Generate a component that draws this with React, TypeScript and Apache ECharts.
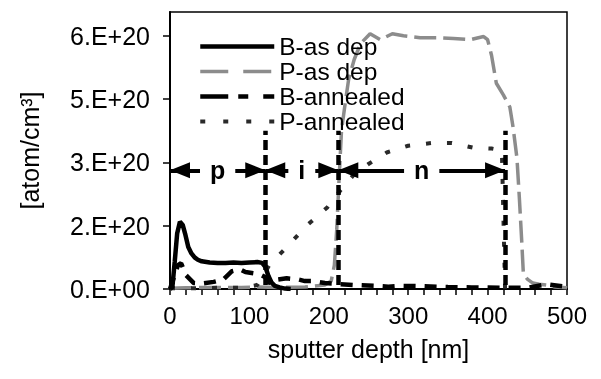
import { useEffect, useRef } from 'react';
import * as echarts from 'echarts';

// concentrations in units of 1e20 atom/cm3, depths in nm
const B_AS_DEP_DEPTH = [0, 3, 6, 9, 12.5, 16, 19, 23, 27, 31, 35, 40, 50, 60, 70, 80, 90, 100, 110, 116, 120, 124, 128, 132, 138, 145, 152];
const B_AS_DEP_CONC = [0, 0.05, 0.7, 1.4, 1.7, 1.62, 1.4, 1.06, 0.9, 0.8, 0.74, 0.7, 0.67, 0.66, 0.66, 0.67, 0.66, 0.67, 0.68, 0.66, 0.56, 0.33, 0.16, 0.08, 0.04, 0.01, 0];

const P_AS_DEP_DEPTH = [0, 20, 50, 90, 110, 140, 170, 195, 203, 207, 210, 213, 216, 220, 225, 232, 240, 252, 265, 280, 294, 315, 340, 357, 378, 395, 400, 405, 411, 420, 428, 432, 437, 440, 443, 445, 450, 457, 465, 474, 485, 500];
const P_AS_DEP_CONC = [0.02, 0.03, 0.04, 0.04, 0.05, 0.04, 0.05, 0.1, 0.2, 0.6, 1.5, 2.8, 4.0, 4.6, 5.3, 5.8, 6.2, 6.45, 6.3, 6.45, 6.4, 6.35, 6.35, 6.33, 6.3, 6.38, 6.3, 5.9, 5.2, 4.9, 4.6, 4.1, 3.3, 2.3, 1.2, 0.4, 0.25, 0.15, 0.12, 0.1, 0.05, 0.03];

const B_ANNEALED_DEPTH = [0, 5, 10, 14, 20, 30, 40, 55, 67, 78, 88, 95, 105, 115, 120, 124, 130, 147, 162, 170, 181, 195, 205, 215, 231, 258, 275, 290, 320, 350, 380, 420, 450, 475, 500];
const B_ANNEALED_CONC = [0, 0.3, 0.6, 0.65, 0.35, 0.15, 0.14, 0.18, 0.24, 0.45, 0.5, 0.43, 0.4, 0.35, 0.3, 0.15, 0.22, 0.27, 0.24, 0.2, 0.2, 0.15, 0.14, 0.12, 0.1, 0.08, 0.06, 0.08, 0.07, 0.05, 0.04, 0.03, 0.03, 0.12, 0.05];

const P_ANNEALED_DEPTH = [0, 30, 60, 90, 110, 125, 149, 172, 198, 215, 232, 250, 273, 300, 330, 355, 382, 405, 418, 422];
const P_ANNEALED_CONC = [0.02, 0.02, 0.03, 0.03, 0.1, 0.6, 1.1, 1.6, 2.06, 2.5, 2.9, 3.16, 3.45, 3.62, 3.69, 3.69, 3.57, 3.55, 3.5, 0];

const Y_TICKS = [0, 1.6, 3.2, 4.8, 6.4];
const X_LABEL_STEP = 100;

const REGION_BOUNDS = [0, 120, 212, 422];
const REGION_LABELS = ['p', 'i', 'n'];
const ARROW_LEVEL = 3.0;
const DIVIDER_X = [120, 212, 422];
const DIVIDER_RANGE = [0.1, 4.0];

const FONT = '"Liberation Sans", Arial, sans-serif';

const pairs = (xs: number[], ys: number[]) => xs.map((x, i) => [x, ys[i]]);

const excelExp = (v: number) => {
  const s = (v * 1e20).toExponential(0);
  const [m, e] = s.split('e');
  const ex = parseInt(e, 10);
  return `${m}.E${ex >= 0 ? '+' : '-'}${String(Math.abs(ex)).padStart(2, '0')}`;
};

export default function App() {
  const ref = useRef<HTMLDivElement>(null);
  useEffect(() => {
    if (!ref.current) return;
    const chart = echarts.init(ref.current, null, { renderer: 'svg' });
    const arrowEnd = (x: number) => ({
      coord: [x, ARROW_LEVEL],
      symbol: 'triangle',
      symbolSize: [16, 20],
      symbolOffset: [0, 10],
    });
    chart.setOption({
      animation: false,
      textStyle: { fontFamily: FONT },
      grid: {
        left: 170, right: 34, top: 12, bottom: 90,
        show: true, borderColor: '#000', borderWidth: 1.5,
        containLabel: false, outerBoundsMode: 'none',
      },
      legend: {
        data: [
          { name: 'B-as dep', lineStyle: { width: 4.5 } },
          { name: 'P-as dep', lineStyle: { width: 3.5, type: [28, 15] } },
          { name: 'B-annealed', lineStyle: { width: 4.5, type: [28, 10, 10, 15] } },
          { name: 'P-annealed', lineStyle: { width: 4, type: [5, 18] } },
        ],
        orient: 'vertical',
        left: 198, top: 34, padding: 0,
        itemWidth: 74, itemHeight: 14, itemGap: 0,
        itemStyle: { opacity: 0 },
        textStyle: { fontSize: 24.5, color: '#000', fontFamily: FONT },
      },
      xAxis: {
        type: 'value', min: 0, max: 500, interval: 20,
        axisLine: { show: true, lineStyle: { color: '#000', width: 2 } },
        axisTick: { show: true, length: 6, lineStyle: { color: '#000', width: 1.5 } },
        axisLabel: {
          fontSize: 24, color: '#000', margin: 14, fontFamily: FONT,
          formatter: (v: number) => (v % X_LABEL_STEP === 0 ? String(v) : ''),
        },
        splitLine: { show: false },
        name: 'sputter depth [nm]', nameLocation: 'middle', nameGap: 47,
        nameTextStyle: { fontSize: 25, color: '#000', fontFamily: FONT },
      },
      yAxis: {
        type: 'value', min: 0, max: 7,
        axisLine: { show: true, lineStyle: { color: '#000', width: 2 } },
        axisTick: { show: true, length: 7, customValues: Y_TICKS, lineStyle: { color: '#000', width: 1.5 } },
        axisLabel: {
          fontSize: 25, color: '#000', margin: 20, fontFamily: FONT,
          customValues: Y_TICKS, formatter: (v: number) => excelExp(v),
        },
        splitLine: { show: false },
        name: '[atom/cm³]', nameLocation: 'middle', nameGap: 128, nameRotate: 90,
        nameTextStyle: { fontSize: 25, color: '#000', fontFamily: FONT },
      },
      series: [
        {
          name: 'P-as dep', type: 'line', symbol: 'none', z: 2,
          data: pairs(P_AS_DEP_DEPTH, P_AS_DEP_CONC),
          lineStyle: { color: '#8c8c8c', width: 3.5, type: [22, 7] },
          itemStyle: { color: '#8c8c8c' },
        },
        {
          name: 'P-annealed', type: 'line', symbol: 'none', z: 3,
          data: pairs(P_ANNEALED_DEPTH, P_ANNEALED_CONC),
          lineStyle: { color: '#2a2a2a', width: 4, type: [5, 16] },
          itemStyle: { color: '#2a2a2a' },
        },
        {
          name: 'B-annealed', type: 'line', symbol: 'none', z: 4,
          data: pairs(B_ANNEALED_DEPTH, B_ANNEALED_CONC),
          lineStyle: { color: '#000', width: 4.5, type: [12, 9] },
          itemStyle: { color: '#000' },
        },
        {
          name: 'B-as dep', type: 'line', symbol: 'none', z: 5,
          data: pairs(B_AS_DEP_DEPTH, B_AS_DEP_CONC),
          lineStyle: { color: '#000', width: 4.5, type: 'solid' },
          itemStyle: { color: '#000' },
        },
        {
          type: 'line', data: [], z: 6,
          markLine: {
            silent: true, symbol: 'none', animation: false,
            label: { show: false },
            lineStyle: { color: '#000', width: 4.5, type: [10, 5] },
            data: DIVIDER_X.map((x) => [{ coord: [x, DIVIDER_RANGE[0]] }, { coord: [x, DIVIDER_RANGE[1]] }]),
          },
        },
        {
          type: 'line', data: [], z: 7,
          markLine: {
            silent: true, animation: false,
            label: { show: false },
            lineStyle: { color: '#000', width: 4, type: 'solid', opacity: 1 },
            data: REGION_LABELS.map((_, i) => [arrowEnd(REGION_BOUNDS[i]), arrowEnd(REGION_BOUNDS[i + 1])]),
          },
        },
        {
          type: 'scatter', z: 10, symbolSize: 1,
          itemStyle: { color: '#fff', opacity: 1 },
          data: REGION_LABELS.map((t, i) => ({
            name: t,
            value: [(REGION_BOUNDS[i] + REGION_BOUNDS[i + 1]) / 2, ARROW_LEVEL],
          })),
          label: {
            show: true, position: 'inside', formatter: '{b}',
            fontSize: 25, fontWeight: 'bold', color: '#000', fontFamily: FONT,
            textBorderWidth: 0, textBorderColor: 'transparent',
            backgroundColor: '#fff', padding: [0, 10], lineHeight: 24, opacity: 1,
          },
        },
      ],
    });
    return () => chart.dispose();
  }, []);
  return <div ref={ref} style={{ position: 'fixed', left: 0, top: 0, width: 601, height: 379 }} />;
}
